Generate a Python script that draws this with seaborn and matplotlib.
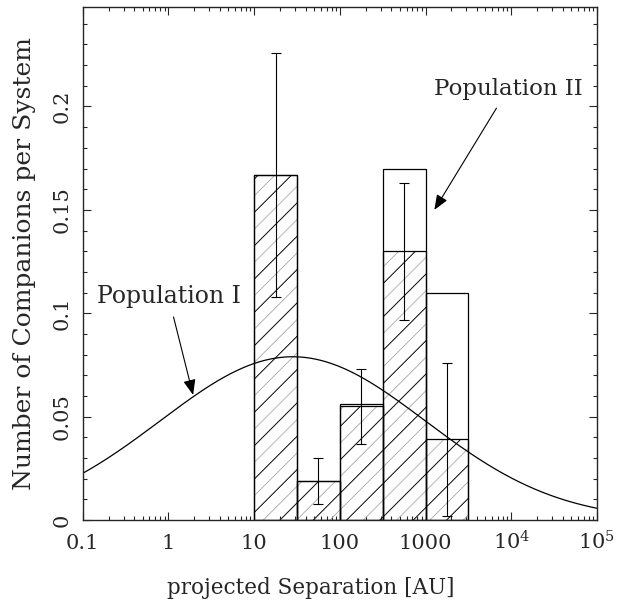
import numpy as np
import pandas as pd
import matplotlib
matplotlib.use("Agg")
import matplotlib.pyplot as plt
from matplotlib.ticker import FixedLocator, FixedFormatter, LogLocator, MultipleLocator, NullFormatter
import seaborn as sns

# histogram bins, in log10(AU)
log_edges = [1.0, 1.5, 2.0, 2.5, 3.0, 3.5]
bin_centers = [17.8, 56.2, 178, 562, 1778]
hatched_heights = [0.167, 0.019, 0.055, 0.130, 0.039]
total_heights = [0.167, 0.019, 0.056, 0.170, 0.110]
err_half = [0.059, 0.011, 0.018, 0.033, 0.037]

# Population I curve (log-normal), parameters
pop1_peak = 0.079
pop1_mean_log = 1.45
pop1_sigma_log = 1.55

xtick_values = [0.1, 1, 10, 100, 1000, 1e4, 1e5]
xtick_labels = ["0.1", "1", "10", "100", "1000", r"$10^4$", r"$10^5$"]
ytick_values = [0, 0.05, 0.1, 0.15, 0.2]
ytick_labels = ["0", "0.05", "0.1", "0.15", "0.2"]

bars = pd.DataFrame({"sep": bin_centers, "hatched": hatched_heights, "total": total_heights})

sns.set_style("ticks")
plt.rcParams["font.family"] = ["DejaVu Serif"]
plt.rcParams["mathtext.fontset"] = "dejavuserif"
plt.rcParams["hatch.linewidth"] = 0.6

fig = plt.figure(figsize=(6.27, 6.02), dpi=100)
ax = fig.add_axes([0.132, 0.136, 0.820, 0.852])

# hatching: light grey fine lines + black coarse lines
sns.histplot(data=bars, x="sep", weights="hatched", bins=log_edges, log_scale=True,
             fill=True, facecolor="none", edgecolor="#a8a8a8", hatch="//", linewidth=0, ax=ax)
sns.histplot(data=bars, x="sep", weights="hatched", bins=log_edges, log_scale=True,
             fill=True, facecolor="none", edgecolor="black", hatch="/", linewidth=0, ax=ax)
# outlines
sns.histplot(data=bars, x="sep", weights="hatched", bins=log_edges, log_scale=True,
             fill=False, color="black", linewidth=0.9, ax=ax)
sns.histplot(data=bars, x="sep", weights="total", bins=log_edges, log_scale=True,
             fill=False, color="black", linewidth=0.9, ax=ax)

ax.errorbar(bin_centers, hatched_heights, yerr=err_half, fmt="none", ecolor="black",
            elinewidth=0.8, capsize=3.6, capthick=0.8)

sep_grid = np.logspace(-1, 5, 400)
pop1 = pop1_peak * np.exp(-0.5 * ((np.log10(sep_grid) - pop1_mean_log) / pop1_sigma_log) ** 2)
sns.lineplot(x=sep_grid, y=pop1, color="black", linewidth=0.9, ax=ax)

arrow = dict(arrowstyle="-|>,head_length=0.55,head_width=0.22", color="black", lw=0.8,
             shrinkA=4, shrinkB=0)
ax.annotate("Population I", xy=(1.94, 0.0605), xytext=(1.0, 0.108),
            ha="center", va="center", fontsize=17, arrowprops=arrow)
ax.annotate("Population II", xy=(1268, 0.150), xytext=(9190, 0.2084),
            ha="center", va="center", fontsize=16.5, arrowprops=arrow)

ax.set_xlim(0.1, 1e5)
ax.set_ylim(0, 0.248)

ax.xaxis.set_major_locator(FixedLocator(xtick_values))
ax.xaxis.set_major_formatter(FixedFormatter(xtick_labels))
ax.xaxis.set_minor_locator(LogLocator(base=10, subs=range(2, 10), numticks=20))
ax.xaxis.set_minor_formatter(NullFormatter())
ax.yaxis.set_major_locator(FixedLocator(ytick_values))
ax.yaxis.set_major_formatter(FixedFormatter(ytick_labels))
ax.yaxis.set_minor_locator(MultipleLocator(0.01))

ax.tick_params(which="both", direction="in", top=True, right=True, width=0.8, labelsize=15)
ax.tick_params(which="major", length=6)
ax.tick_params(which="minor", length=3)
ax.tick_params(axis="x", pad=21)
ax.tick_params(axis="y", pad=8, labelrotation=90)
plt.setp(ax.get_xticklabels(), va="baseline")
plt.setp(ax.get_yticklabels(), va="center")

for s in ax.spines.values():
    s.set_linewidth(1.0)

ax.set_xlabel("projected Separation [AU]", fontsize=15.5, va="center")
ax.xaxis.set_label_coords(0.444, -0.1326)
ax.set_ylabel("Number of Companions per System", fontsize=18, va="center")
ax.yaxis.set_label_coords(-0.113, 0.5)

fig.savefig("out.png", dpi=100)
